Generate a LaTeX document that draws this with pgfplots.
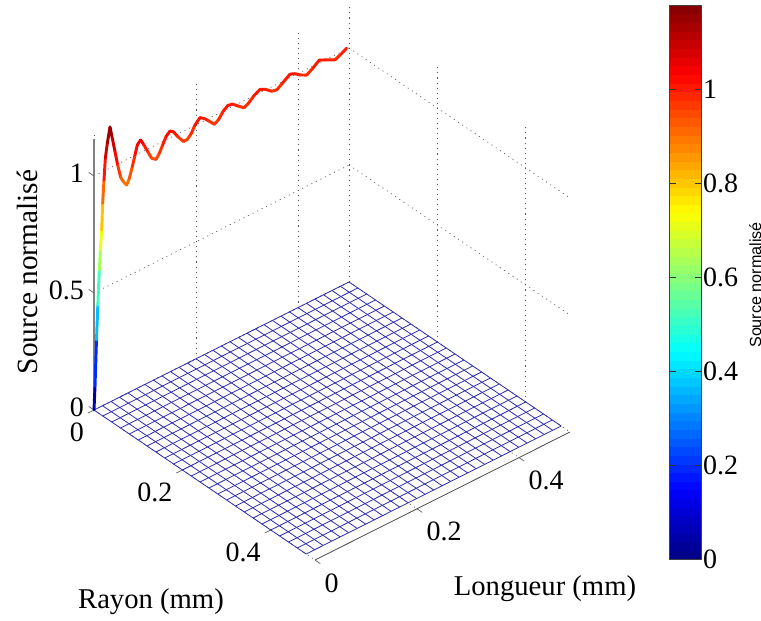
\documentclass[border=0pt]{standalone}
\usepackage{fontspec}
\setmainfont{Liberation Serif}
\newfontfamily\cbfont{Liberation Sans}
\usepackage{pgfplots}
\pgfplotsset{compat=1.18}
\definecolor{meshblue}{RGB}{45,45,175}
\begin{document}
\begin{tikzpicture}
\begin{axis}[
  name=main,
  x={(331.5pt,-225pt)}, y={(382.5pt,192pt)}, z={(0pt,175.5pt)},
  xmin=0,xmax=0.5,ymin=0,ymax=0.5,zmin=0,zmax=1.18,
  colormap/jet, point meta min=0, point meta max=1.18,
  xtick={0,0.2,0.4}, ytick={0,0.2,0.4}, ztick={0,0.5,1},
  xticklabels={0,0.2,0.4}, yticklabels={0,0.2,0.4}, zticklabels={0,0.5,1},
  xtick pos=left, ytick pos=right, ztick pos=left,
  yticklabel pos=left,
  tick align=outside, major tick length=4.5pt,
  tick style={draw=none},
  grid=major,
  grid style={dash pattern=on 0.8pt off 3pt, gray!70!black, line width=0.5pt},
  axis line style={draw=none},
  ticklabel style={font=\fontsize{21}{24}\selectfont},
  /pgf/number format/assume math mode=true,
  xticklabel style={anchor=north east,yshift=-4pt},
  yticklabel style={anchor=north west,yshift=-4pt},
  zticklabel style={anchor=east,yshift=4pt},
  xlabel={Rayon (mm)}, ylabel={Longueur (mm)}, zlabel={Source normalisé},
  every axis x label/.style={at={(axis cs:0.4227,-0.2546,0)},anchor=center,font=\fontsize{21.5}{24}\selectfont},
  every axis y label/.style={at={(axis cs:0.7768,0.2111,0)},anchor=center,font=\fontsize{21.5}{24}\selectfont},
  every axis z label/.style={at={(axis cs:-0.3346,0.1586,-0.013)},anchor=center,rotate=90,font=\fontsize{22}{24}\selectfont},
  clip=false,
]
% axis lines
\draw[gray!60!black,line width=0.6pt] (axis cs:0.5,0,0) -- (axis cs:0.5,0.5,0);
\draw[gray,line width=1pt] (axis cs:0,0,0) -- (axis cs:0,0,1.16);
% tick marks on the three drawn axes only
\foreach \t in {0,0.2,0.4} {
  \edef\tmp{\noexpand\draw[gray!70!black,line width=0.5pt] (axis cs:\t,0,0) -- (axis cs:\t,-0.012,0);}\tmp
  \edef\tmp{\noexpand\draw[gray!70!black,line width=0.5pt] (axis cs:0.5,\t,0) -- (axis cs:0.512,\t,0);}\tmp
}
\foreach \t in {0,0.5,1} {
  \edef\tmp{\noexpand\draw[gray!70!black,line width=0.5pt] (axis cs:0,0,\t) -- (axis cs:-0.012,0,\t);}\tmp
}
% floor mesh (source is zero away from the axis)
\pgfplotsinvokeforeach{0,0.02,0.04,0.06,0.08,0.10,0.12,0.14,0.16,0.18,0.20,0.22,0.24,0.26,0.28,0.30,0.32,0.34,0.36,0.38,0.40,0.42,0.44,0.46,0.48}{
  \addplot3[color=meshblue,line width=0.6pt,forget plot] coordinates {(#1,0,0)(#1,0.5,0)};
}
\pgfplotsinvokeforeach{0,0.0167,0.0333,0.05,0.0667,0.0833,0.10,0.1167,0.1333,0.15,0.1667,0.1833,0.20,0.2167,0.2333,0.25,0.2667,0.2833,0.30,0.3167,0.3333,0.35,0.3667,0.3833,0.40,0.4167,0.4333,0.45,0.4667,0.4833,0.50}{
  \addplot3[color=meshblue,line width=0.6pt,forget plot] coordinates {(0,#1,0)(0.48,#1,0)};
}
% source along the axis r=0
\addplot3[mesh, point meta=z, line width=2.2pt, line cap=round, line join=round, mesh/rows=1, forget plot] coordinates {
(0,0,0)(0,0.002,0.10)(0,0.0049,0.294)(0,0.0075,0.44)(0,0.0104,0.587)(0,0.0125,0.67)(0,0.0151,0.753)
(0,0.0170,0.865)(0,0.0196,0.961)(0,0.0222,1.051)(0,0.0261,1.111)(0,0.0314,1.175)(0,0.0359,1.122)
(0,0.0412,1.059)(0,0.0464,0.996)(0,0.0523,0.937)(0,0.0575,0.913)(0,0.0641,0.891)(0,0.0693,0.914)
(0,0.0752,0.958)(0,0.0804,1.002)(0,0.085,1.040)(0,0.0915,1.054)(0,0.098,1.025)(0,0.1065,0.983)
(0,0.1131,0.952)(0,0.1216,0.938)(0,0.1281,0.957)(0,0.1346,0.985)(0,0.1412,1.014)(0,0.149,1.029)
(0,0.1555,1.019)(0,0.1641,0.989)(0,0.1752,0.956)(0,0.183,0.956)(0,0.1902,0.971)(0,0.198,1.001)
(0,0.2078,1.022)(0,0.2157,1.010)(0,0.2242,0.991)(0,0.2359,0.963)(0,0.2438,0.973)(0,0.2536,1.000)
(0,0.2621,1.014)(0,0.2712,1.011)(0,0.283,0.989)(0,0.2941,0.970)(0,0.3026,0.979)(0,0.3137,1.000)
(0,0.3255,1.014)(0,0.3353,1.004)(0,0.3484,0.981)(0,0.3582,0.976)(0,0.3693,0.992)(0,0.3843,1.015)
(0,0.3941,1.006)(0,0.4039,0.990)(0,0.417,0.975)(0,0.4288,0.991)(0,0.4418,1.012)(0,0.4562,0.997)
(0,0.4725,0.979)(0,0.4843,0.991)(0,0.4954,1.004)
};
\coordinate (O) at (axis cs:0,0,0);
\end{axis}
\path ([xshift=423pt,yshift=-111.75pt]O) coordinate (CB);
\begin{axis}[
  at={(CB)}, anchor=south east,
  scale only axis, width=1pt, height=415.5pt, hide axis,
  xmin=0,xmax=1,ymin=0,ymax=1,
  colormap/jet, point meta min=0, point meta max=1.18,
  colorbar, colorbar sampled,
  colorbar style={
    samples=65, width=24.2pt, height=415.5pt, xshift=0pt,
    at={(parent axis.south east)}, anchor=south west,
    ytick={0,0.2,0.4,0.6,0.8,1}, yticklabels={0,0.2,0.4,0.6,0.8,1},
    /pgf/number format/assume math mode=true,
    tick align=inside, major tick length=5pt,
    tick style={black!80,line width=0.5pt},
    ytick pos=both, yticklabel pos=right,
    axis line style={gray!50!black,line width=0.6pt},
    yticklabel style={font=\fontsize{21}{24}\selectfont, xshift=-2.5pt},
    ylabel={Source normalisé},
    every axis y label/.style={at={(axis description cs:2.66,0.4946)},anchor=center,rotate=90,font=\cbfont\fontsize{12.1}{14}\selectfont},
  },
]
\end{axis}
\pgfresetboundingbox
\path[use as bounding box] ([xshift=-70.5pt,yshift=-158.25pt]O) rectangle ([xshift=500.25pt,yshift=307.5pt]O);
\end{tikzpicture}
\end{document}
